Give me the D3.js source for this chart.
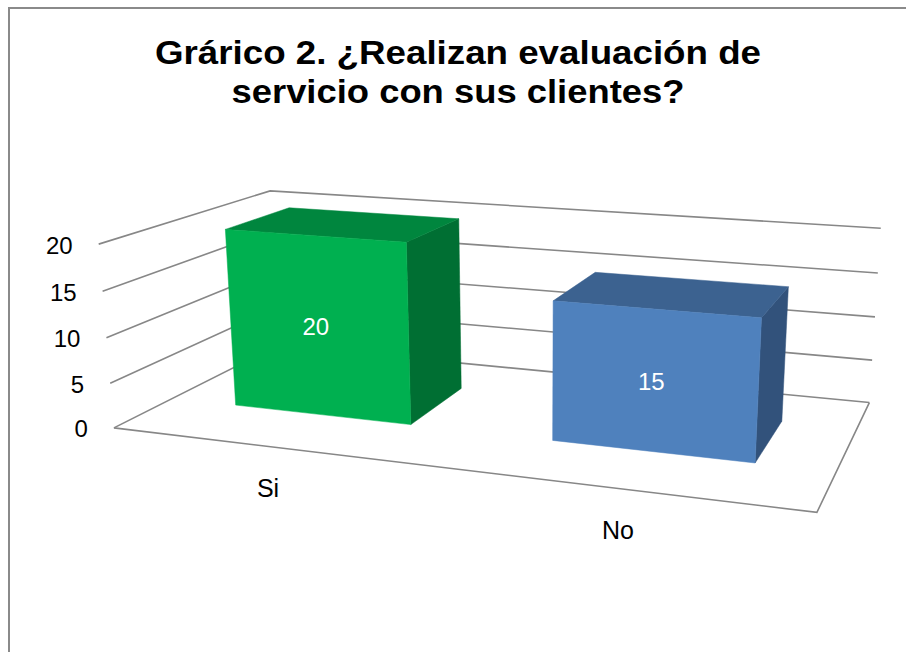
<!DOCTYPE html>
<html>
<head>
<meta charset="utf-8">
<script src="https://cdn.jsdelivr.net/npm/d3@7"></script>
<style>
	body { margin: 0; background: #fff; }
	svg { display: block; font-family: "Liberation Sans", Arial, sans-serif; }
</style>
</head>
<body>
<script>
// chart data
var categories = ['Si', 'No'];
var values = [20, 15];
var yTicks = [0, 5, 10, 15, 20];
var titleLines = ['Grárico 2. ¿Realizan evaluación de', 'servicio con sus clientes?'];

// face colours per bar: front, top, side
var barColors = [
	{ front: '#00b050', top: '#00863e', side: '#006f33' },
	{ front: '#4f81bd', top: '#3c6290', side: '#32527b' }
];

var width = 906,
	height = 652,
	gapWidth = 0.43,      // share of a category left empty
	barDepth = [0.32, 0.72], // bar extent along the depth axis
	gridColor = '#878787';

// plot box corners on screen, used to calibrate the 3d camera
// world: x 0..1 across categories, y 0..1 value, z 0 front .. 1 back
var viewAnchors = [
	{ w: [0, 0, 0], s: [113, 428] },
	{ w: [0, 1, 0], s: [100, 244] },
	{ w: [0, 0.5, 0], s: [106, 338] },
	{ w: [1, 0, 0], s: [817, 512] },
	{ w: [1, 0, 1], s: [869, 403] },
	{ w: [1, 0.5, 1], s: [875, 317] },
	{ w: [1, 1, 1], s: [881, 228] },
	{ w: [0, 1, 1], s: [269, 191] },
	{ w: [0, 0, 1], s: [279, 345] }
];

// least squares camera matrix (DLT) so the box projects onto the anchors
function solveCamera(pts) {
	var A = [], b = [];
	pts.forEach(function (p) {
		var X = p.w[0], Y = p.w[1], Z = p.w[2], u = p.s[0], v = p.s[1];
		A.push([X, Y, Z, 1, 0, 0, 0, 0, -u * X, -u * Y, -u * Z]); b.push(u);
		A.push([0, 0, 0, 0, X, Y, Z, 1, -v * X, -v * Y, -v * Z]); b.push(v);
	});
	var n = 11, M = [], i, j, k;
	for (i = 0; i < n; i++) {
		M[i] = [];
		for (j = 0; j < n; j++) {
			var s = 0;
			for (k = 0; k < A.length; k++) s += A[k][i] * A[k][j];
			M[i][j] = s;
		}
		var t = 0;
		for (k = 0; k < A.length; k++) t += A[k][i] * b[k];
		M[i][n] = t;
	}
	// gauss elimination with pivoting
	for (i = 0; i < n; i++) {
		var piv = i;
		for (j = i + 1; j < n; j++) if (Math.abs(M[j][i]) > Math.abs(M[piv][i])) piv = j;
		var tmp = M[i]; M[i] = M[piv]; M[piv] = tmp;
		for (j = i + 1; j < n; j++) {
			var f = M[j][i] / M[i][i];
			for (k = i; k <= n; k++) M[j][k] -= f * M[i][k];
		}
	}
	var p = [];
	for (i = n - 1; i >= 0; i--) {
		var acc = M[i][n];
		for (j = i + 1; j < n; j++) acc -= M[i][j] * p[j];
		p[i] = acc / M[i][i];
	}
	return function (X, Y, Z) {
		var w = p[8] * X + p[9] * Y + p[10] * Z + 1;
		return [(p[0] * X + p[1] * Y + p[2] * Z + p[3]) / w, (p[4] * X + p[5] * Y + p[6] * Z + p[7]) / w];
	};
}

var project = solveCamera(viewAnchors);

var x = d3.scaleBand()
	.domain(categories)
	.range([0, 1])
	.paddingInner(gapWidth)
	.paddingOuter(gapWidth / 2);

var y = d3.scaleLinear()
	.domain([0, d3.max(yTicks)])
	.range([0, 1]);

var svg = d3.select('body').append('svg')
	.attr('width', width)
	.attr('height', height);

// chart frame
svg.append('rect')
	.attr('x', 9).attr('y', 8)
	.attr('width', width + 20).attr('height', height + 20)
	.attr('fill', '#fff')
	.attr('stroke', '#8a8a8a')
	.attr('stroke-width', 2);

// title
svg.append('g').selectAll('text').data(titleLines).enter().append('text')
	.attr('x', 458)
	.attr('y', function (d, i) { return 64 + i * 39; })
	.attr('text-anchor', 'middle')
	.attr('font-size', 33)
	.attr('font-weight', 'bold')
	.attr('fill', '#000')
	.attr('textLength', function (d, i) { return i === 0 ? 606 : 453; })
	.attr('lengthAdjust', 'spacingAndGlyphs')
	.text(function (d) { return d; });

var line = d3.line();
var pt = function (X, v, Z) { return project(X, y(v), Z); };

// walls: left wall and back wall gridlines
var grid = svg.append('g').attr('class', 'grid')
	.attr('fill', 'none')
	.attr('stroke', gridColor)
	.attr('stroke-width', 1.6);

grid.selectAll('.wall').data(yTicks).enter().append('path')
	.attr('class', 'wall')
	.attr('d', function (v) {
		return line([pt(0, v, 0), pt(0, v, 1), pt(1, v, 1)]);
	});

// floor outline
grid.append('path')
	.attr('d', line([pt(0, 0, 0), pt(1, 0, 0), pt(1, 0, 1)]));

// y tick labels
svg.append('g').selectAll('text').data(yTicks).enter().append('text')
	.attr('x', function (v) { return pt(0, v, 0)[0] - 26; })
	.attr('y', function (v) { return pt(0, v, 0)[1] + 1; })
	.attr('dy', '0.35em')
	.attr('text-anchor', 'end')
	.attr('font-size', 24)
	.attr('fill', '#000')
	.text(function (v) { return v; });

// bars, drawn left to right (right side is nearer the viewer)
var bars = svg.append('g').selectAll('g').data(categories).enter().append('g')
	.attr('class', 'bar');

bars.each(function (c, i) {
	var g = d3.select(this);
	var x0 = x(c), x1 = x(c) + x.bandwidth();
	var z0 = barDepth[0], z1 = barDepth[1];
	var v = values[i];
	var col = barColors[i];
	var face = function (corners, fill) {
		g.append('path')
			.attr('d', line(corners) + 'Z')
			.attr('fill', fill)
			.attr('stroke', fill)
			.attr('stroke-width', 0.5)
			.attr('stroke-linejoin', 'round');
	};
	face([pt(x1, 0, z0), pt(x1, 0, z1), pt(x1, v, z1), pt(x1, v, z0)], col.side);
	face([pt(x0, v, z0), pt(x1, v, z0), pt(x1, v, z1), pt(x0, v, z1)], col.top);
	face([pt(x0, 0, z0), pt(x1, 0, z0), pt(x1, v, z0), pt(x0, v, z0)], col.front);

	var mid = pt((x0 + x1) / 2, v / 2, z0);
	g.append('text')
		.attr('x', mid[0] - 2)
		.attr('y', mid[1])
		.attr('dy', '0.35em')
		.attr('text-anchor', 'middle')
		.attr('font-size', 24)
		.attr('fill', '#fff')
		.text(v);
});

// category labels below the front edge
svg.append('g').selectAll('text').data(categories).enter().append('text')
	.attr('x', function (c) { return pt(x(c) + x.bandwidth() / 2, 0, 0)[0] - 2; })
	.attr('y', function (c) { return pt(x(c) + x.bandwidth() / 2, 0, 0)[1] + 42; })
	.attr('dy', '0.35em')
	.attr('text-anchor', 'middle')
	.attr('font-size', 25)
	.attr('fill', '#000')
	.text(function (c) { return c; });
</script>
</body>
</html>
